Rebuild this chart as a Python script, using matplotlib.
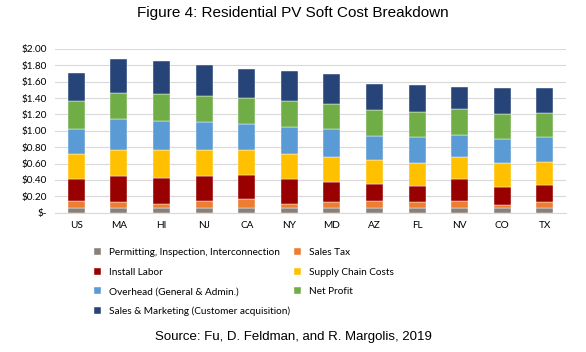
import matplotlib.pyplot as plt
import numpy as np

states = ['US', 'MA', 'HI', 'NJ', 'CA', 'NY', 'MD', 'AZ', 'FL', 'NV', 'CO', 'TX']

# cost components ($/W), bottom to top
permitting = [0.057, 0.057, 0.057, 0.057, 0.057, 0.057, 0.057, 0.057, 0.057, 0.057, 0.057, 0.057]
sales_tax = [0.086, 0.078, 0.053, 0.086, 0.110, 0.053, 0.078, 0.090, 0.078, 0.090, 0.033, 0.078]
install_labor = [0.270, 0.310, 0.314, 0.302, 0.290, 0.302, 0.245, 0.204, 0.192, 0.265, 0.224, 0.200]
supply_chain = [0.300, 0.326, 0.335, 0.314, 0.302, 0.302, 0.302, 0.286, 0.285, 0.270, 0.290, 0.289]
overhead = [0.310, 0.368, 0.363, 0.347, 0.323, 0.327, 0.334, 0.302, 0.310, 0.265, 0.298, 0.294]
net_profit = [0.335, 0.322, 0.327, 0.323, 0.322, 0.318, 0.311, 0.310, 0.307, 0.314, 0.302, 0.298]
sales_marketing = [0.347, 0.412, 0.400, 0.379, 0.347, 0.368, 0.367, 0.327, 0.330, 0.278, 0.323, 0.311]

series = [permitting, sales_tax, install_labor, supply_chain, overhead, net_profit, sales_marketing]
names = ['Permitting, Inspection, Interconnection', 'Sales Tax', 'Install Labor',
         'Supply Chain Costs', 'Overhead (General & Admin.)', 'Net Profit',
         'Sales & Marketing (Customer acquisition)']
colors = ['#8C7F77', '#ED7D31', '#990000', '#FFC000', '#5B9BD5', '#70AD47', '#264478']

yticks = [0, 0.2, 0.4, 0.6, 0.8, 1.0, 1.2, 1.4, 1.6, 1.8, 2.0]
ylabels = ['$-', '$0.20', '$0.40', '$0.60', '$0.80', '$1.00', '$1.20', '$1.40', '$1.60', '$1.80', '$2.00']

plt.rcParams['font.family'] = ['Lato', 'DejaVu Sans']

fig = plt.figure(figsize=(5.86, 3.52), dpi=100)
ax = fig.add_axes([0.094, 0.396, 0.872, 0.465])

x = np.arange(len(states))
bottom = np.zeros(len(states))
handles = []
for vals, name, c in zip(series, names, colors):
    b = ax.bar(x, vals, 0.4, bottom=bottom, color=c, label=name,
               edgecolor='white', linewidth=0.3, zorder=3)
    handles.append(b)
    bottom += np.array(vals)

ax.set_xlim(-0.5, len(states) - 0.5)
ax.set_ylim(0, 2.0)
ax.set_yticks(yticks)
ax.set_yticklabels(ylabels, fontsize=7.2)
ax.set_xticks(x)
ax.set_xticklabels(states, fontsize=7.2)
ax.grid(axis='y', color='#D9D9D9', linewidth=0.8, zorder=0)
for s in ['top', 'right', 'left']:
    ax.spines[s].set_visible(False)
ax.spines['bottom'].set_color('#D9D9D9')
ax.tick_params(length=0, pad=6)

order = [0, 2, 4, 6, 1, 3, 5]
fig.legend([handles[i] for i in order], [names[i] for i in order],
           ncol=2, loc='upper left', bbox_to_anchor=(0.145, 0.32),
           frameon=False, fontsize=7.2, handlelength=0.7, handleheight=0.7,
           columnspacing=0.4, labelspacing=1.05, handletextpad=0.8)

fig.text(0.5, 0.963, 'Figure 4: Residential PV Soft Cost Breakdown',
         ha='center', va='center', fontsize=11, family='Liberation Sans')
fig.text(0.5, 0.042, 'Source: Fu, D. Feldman, and R. Margolis, 2019',
         ha='center', va='center', fontsize=9.5, family='Liberation Sans')

fig.savefig('out.png', dpi=100)
